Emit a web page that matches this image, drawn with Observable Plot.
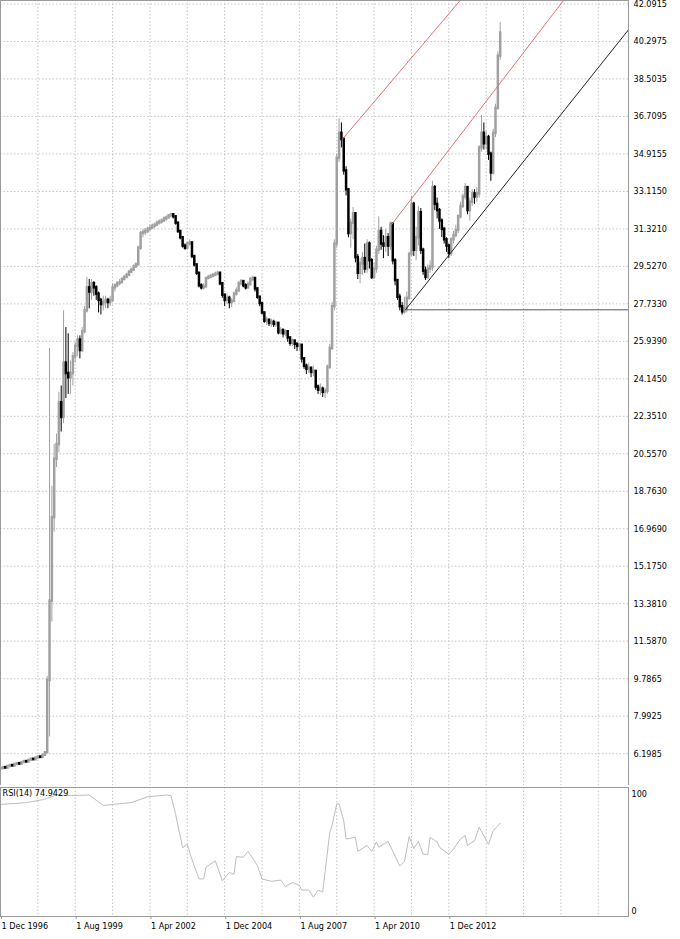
<!DOCTYPE html>
<html><head><meta charset="utf-8">
<script src="https://cdn.jsdelivr.net/npm/d3@7"></script>
<script src="https://cdn.jsdelivr.net/npm/@observablehq/plot@0.6"></script>
<style>
html,body{margin:0;padding:0;background:#fff;overflow:hidden;}
#chart{width:680px;}
#chart svg{display:block;}
</style></head><body><div id="chart"></div>
<script>
// ---- data (monthly bars, index 0 = Dec 1996) ----
const closes = [
5.48,5.53,5.51,5.58,5.63,5.61,5.68,5.72,5.70,5.77,
5.82,5.80,5.88,5.93,5.91,5.99,6.04,6.02,6.12,6.24,
9.7,13.5,17.5,20.3,21.0,23.0,22.3,24.9,24.4,24.2,
24.4,25.2,25.7,26.0,25.5,26.4,27.4,28.5,28.3,28.7,
28.5,28.2,27.9,27.7,27.8,27.9,27.8,27.9,28.5,28.6,
28.7,28.75,28.9,29.0,29.1,29.25,29.35,29.5,29.6,30.4,
31.1,31.15,31.2,31.3,31.35,31.45,31.5,31.6,31.65,31.7,
31.8,31.85,31.95,32.0,31.9,31.6,31.2,30.9,30.5,30.4,
30.6,30.65,30.0,29.6,29.2,28.6,28.5,28.55,28.95,29.0,
29.05,29.1,29.15,29.2,28.7,28.15,27.9,28.0,27.8,27.85,
28.2,28.35,28.7,28.8,28.6,28.5,28.65,28.9,28.95,28.45,
28.05,27.75,27.3,26.9,26.95,26.8,26.85,26.75,26.8,26.35,
26.45,26.3,26.4,26.1,25.85,25.95,25.8,25.7,25.75,25.1,
24.75,24.6,24.65,24.45,24.5,23.75,23.6,23.65,23.5,23.55,
24.7,25.6,27.6,30.6,34.7,35.9,35.6,34.1,33.2,31.1,
31.6,32.05,29.95,29.2,29.65,29.9,29.4,30.6,29.8,29.0,
29.4,30.3,31.2,30.6,30.5,30.9,30.5,31.55,29.8,28.85,
28.05,27.6,27.35,27.5,28.0,30.1,32.5,30.3,30.9,32.1,
30.3,29.3,29.0,29.4,29.5,33.3,32.5,32.2,31.7,31.3,
30.8,30.5,30.15,30.8,31.0,31.25,31.9,32.4,32.85,33.3,
32.2,32.6,33.0,32.85,33.0,35.2,35.9,35.4,35.7,34.9,
34.0,35.9,37.1,39.6,40.7];
const highs = [
5.52,5.56,5.56,5.61,5.66,5.66,5.71,5.75,5.75,5.80,
5.85,5.85,5.91,5.96,5.96,6.02,6.07,6.07,6.15,6.28,
9.9,25.6,19.0,21.0,21.5,23.5,23.8,27.4,26.6,26.3,
25.0,25.4,25.9,26.2,26.2,26.6,27.6,29.0,28.9,28.9,
28.8,28.6,28.3,28.0,28.1,28.1,28.0,28.1,28.7,28.7,
28.8,28.9,29.0,29.1,29.2,29.35,29.45,29.6,29.7,30.5,
31.2,31.3,31.35,31.4,31.5,31.55,31.6,31.7,31.75,31.8,
31.9,31.95,32.0,32.05,32.0,31.95,31.6,31.2,30.9,30.6,
30.7,30.8,30.7,30.0,29.6,29.2,28.7,28.7,29.0,29.1,
29.15,29.2,29.25,29.3,29.2,28.7,28.2,28.2,28.1,28.0,
28.3,28.5,28.8,28.9,28.85,28.7,28.8,29.0,29.05,28.95,
28.5,28.1,27.8,27.3,27.1,27.0,27.0,26.95,26.9,26.8,
26.6,26.55,26.5,26.4,26.15,26.05,26.0,25.85,25.85,25.75,
25.15,24.85,24.9,24.7,24.75,24.5,23.85,23.9,23.75,23.7,
24.8,25.8,27.8,30.8,34.9,36.6,36.4,35.7,34.3,33.2,
31.8,32.35,32.1,30.1,29.9,30.2,30.6,30.8,30.7,29.9,
29.7,30.5,31.9,31.4,31.0,31.3,31.1,31.65,31.6,29.9,
28.9,28.2,27.8,28.05,28.3,30.2,32.9,32.6,31.4,32.4,
32.3,30.4,29.5,29.6,29.8,33.6,33.4,32.8,32.3,31.8,
31.4,30.9,30.6,30.9,31.2,31.5,32.0,32.6,33.0,33.5,
33.3,32.8,33.2,33.2,33.3,35.3,36.75,36.4,36.0,35.8,
35.0,36.1,37.3,39.8,41.2];
const lows = [
5.44,5.46,5.48,5.49,5.56,5.58,5.59,5.66,5.67,5.68,
5.75,5.77,5.78,5.86,5.88,5.89,5.97,5.99,6.00,6.10,
6.2,7.0,12.5,16.8,19.9,20.6,21.6,22.0,23.2,23.4,
23.4,23.8,24.9,25.2,25.1,25.4,26.3,27.3,27.5,27.9,
28.1,27.9,27.3,27.2,27.4,27.5,27.5,27.6,27.8,28.3,
28.5,28.6,28.7,28.85,28.95,29.1,29.2,29.3,29.45,29.55,
30.3,30.9,31.0,31.1,31.2,31.3,31.35,31.45,31.5,31.55,
31.65,31.7,31.8,31.85,31.8,31.5,31.1,30.8,30.4,30.3,
30.35,30.5,29.9,29.5,29.1,28.5,28.4,28.4,28.5,28.9,
28.95,29.0,29.05,29.1,28.6,28.0,27.6,27.7,27.5,27.55,
27.8,28.1,28.3,28.6,28.5,28.4,28.45,28.6,28.8,28.3,
27.95,27.6,27.2,26.8,26.7,26.65,26.6,26.6,26.6,26.25,
26.25,26.1,26.15,25.9,25.7,25.7,25.55,25.45,25.5,24.9,
24.6,24.35,24.4,24.2,24.25,23.6,23.4,23.35,23.25,23.2,
23.4,24.6,25.5,27.4,30.4,34.5,35.2,33.9,32.9,30.9,
30.4,30.8,29.7,28.9,28.7,29.1,29.2,29.2,29.4,28.9,
28.9,29.2,30.1,30.3,29.9,30.2,30.0,30.3,29.6,28.6,
27.9,27.4,27.2,27.25,27.3,27.9,30.0,30.0,29.8,30.5,
30.1,29.1,28.85,28.9,29.2,29.3,32.2,31.8,31.3,30.9,
30.6,30.2,29.9,30.0,30.6,30.9,31.1,31.8,32.3,32.7,
32.0,31.7,32.4,32.5,32.6,32.8,35.0,35.1,35.1,34.6,
33.6,33.9,35.7,37.0,39.4];

const priceTicks = [42.0915,40.2975,38.5035,36.7095,34.9155,33.1150,31.3210,29.5270,27.7330,25.9390,24.1450,22.3510,20.5570,18.7630,16.9690,15.1750,13.3810,11.5870,9.7865,7.9925,6.1985];
const dateTickMonths = [0,32,64,96,128,160,192];
const dateTickLabels = ["1 Dec 1996","1 Aug 1999","1 Apr 2002","1 Dec 2004","1 Aug 2007","1 Apr 2010","1 Dec 2012"];
const gridMonths = [0,16,32,48,64,80,96,112,128,144,160,176,192,208,224,240,256];

const rsiMonths = [0,11,18,24,30,38,44,48,56,63,71,73,75,78,80,82,85,87,88,92,95,98,100,101,104,106,110,112,116,120,122,125,128,129,132,134,136,138,141,142,144,145,147,148,152,153,157,159,161,162,166,171,173,175,177,179,181,183,184,187,188,192,194,197,199,200,203,205,206,209,211,214];
const rsiValues = [91,92.5,95,99,98.5,99,90,91,92.5,97.5,99,98.5,82.5,54,57,44,27.5,27.5,37.5,43,26,33,31.5,46.5,46,51,39,27.5,25.5,26.5,21,24.5,22,18,18,12,18,16.5,67,73,91.5,91.5,77,61.5,63,51,56,51,59,54.5,59.5,38.5,42.5,63.5,53.5,59.5,48.5,48.5,63,59,54.5,48.5,53,61.5,64.5,56,60,71.5,68,57,68.5,74.94];
const rsiTitle = "RSI(14) 74.9429";
const rsiTicks = [0, 100];

// trend lines: [month, price] anchor points
const redLine1 = [[146.3, 35.6], [214, 44.52]];
const redLine2 = [[167.45, 31.52], [241.1, 42.26]];
const blackLine = [[173.4, 27.45], [268.95, 40.86]];
const flatLine = [[173.4, 27.45], [268.95, 27.45]];

// ---- build ----
const bars = closes.map((c, i) => {
  const o = i ? closes[i - 1] : c - 0.02;
  return {i, open: o, close: c, high: highs[i], low: lows[i]};
});
const upBars = bars.filter(d => d.close >= d.open);
const downBars = bars.filter(d => d.close < d.open);
const rsi = rsiMonths.map((m, k) => ({m, v: rsiValues[k]}));
const toPts = a => a.map(([m, p]) => ({m, p}));

const W = 680, PLOT_R = 628, PX_PER_MONTH = 2.335;
const xDomain = [0, PLOT_R / PX_PER_MONTH];
const UP = "#a0a0a0", DOWN = "#000000";
const GRID = {stroke: "#c4c4c4", strokeOpacity: 1, strokeDasharray: "1.5,2"};
const FONT = {fontFamily: "'DejaVu Sans Condensed', 'DejaVu Sans', sans-serif", fontStretch: "condensed", fontSize: "9px", color: "#000", background: "#fff"};

const main = Plot.plot({
  width: W, height: 785,
  marginLeft: 0, marginRight: W - PLOT_R, marginTop: 0, marginBottom: 0,
  style: FONT,
  x: {domain: xDomain, axis: null},
  y: {domain: [4.674, 42.259], axis: null},
  marks: [
    Plot.gridY(priceTicks, GRID),
    Plot.gridX(gridMonths, GRID),
    Plot.ruleX(upBars, {x: "i", y1: "low", y2: "high", stroke: UP, strokeWidth: 1}),
    Plot.ruleX(upBars, {x: "i", y1: "open", y2: "close", stroke: UP, strokeWidth: 2.5, strokeLinecap: "square"}),
    Plot.ruleX(downBars, {x: "i", y1: "low", y2: "high", stroke: DOWN, strokeWidth: 1}),
    Plot.ruleX(downBars, {x: "i", y1: "open", y2: "close", stroke: DOWN, strokeWidth: 2.5, strokeLinecap: "square"}),
    Plot.line(toPts(redLine1), {x: "m", y: "p", stroke: "#e37070", strokeWidth: 1, clip: true}),
    Plot.line(toPts(redLine2), {x: "m", y: "p", stroke: "#e37070", strokeWidth: 1, clip: true}),
    Plot.line(toPts(blackLine), {x: "m", y: "p", stroke: "#222", strokeWidth: 1, clip: true}),
    Plot.line(toPts(flatLine), {x: "m", y: "p", stroke: "#555", strokeWidth: 1, clip: true}),
    Plot.frame({stroke: "#9a9a9a"}),
    Plot.axisY(priceTicks, {anchor: "right", tickSize: 0, tickPadding: 5, tickFormat: d3.format(".4f"), label: null, fill: "#000"})
  ]
});

const dateLabel = new Map(dateTickMonths.map((m, k) => [m, dateTickLabels[k]]));
const rsiPlot = Plot.plot({
  width: W, height: 154,
  marginLeft: 0, marginRight: W - PLOT_R, marginTop: 2, marginBottom: 23,
  style: FONT,
  x: {domain: xDomain, axis: null},
  y: {domain: [-4.5, 105.4], axis: null},
  marks: [
    Plot.gridX(gridMonths, GRID),
    Plot.line(rsi, {x: "m", y: "v", stroke: "#bdbdbd", strokeWidth: 1}),
    Plot.text([rsiTitle], {frameAnchor: "top-left", dx: 2, dy: 2, lineAnchor: "top", textAnchor: "start", fill: "#000"}),
    Plot.frame({stroke: "#9a9a9a"}),
    Plot.axisY(rsiTicks, {anchor: "right", tickSize: 0, tickPadding: 3, tickFormat: d => String(d), label: null, fill: "#000"}),
    Plot.axisX(dateTickMonths, {anchor: "bottom", tickSize: 3, tickPadding: 3, tickFormat: d => dateLabel.get(d), textAnchor: "start", dx: 1, label: null, stroke: "#9a9a9a", fill: "#000"})
  ]
});

const root = document.getElementById("chart");
root.appendChild(main);
root.appendChild(rsiPlot);
</script></body></html>
